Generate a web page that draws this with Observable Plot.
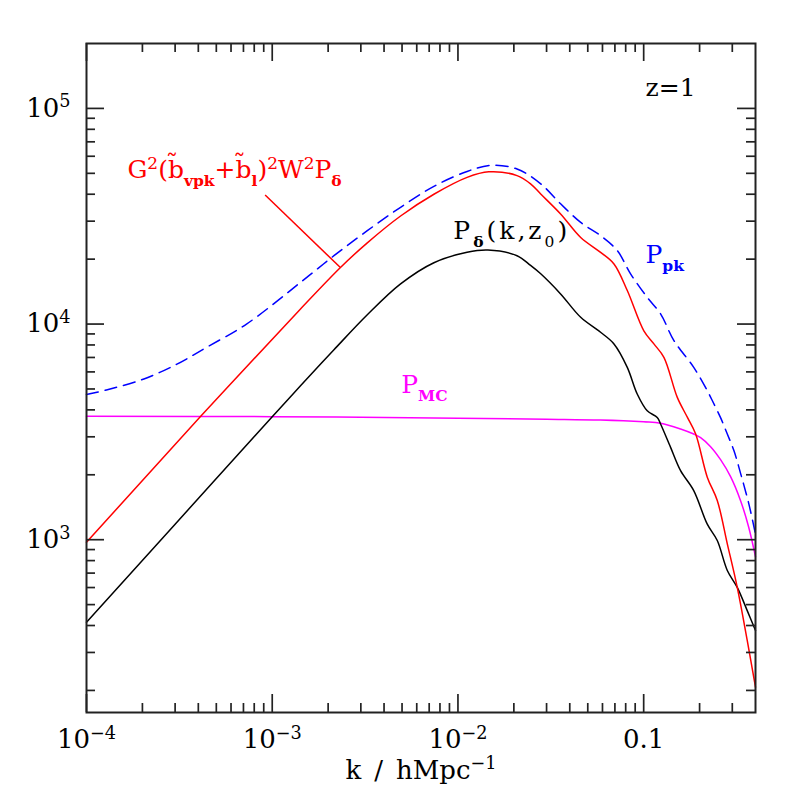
<!DOCTYPE html>
<html><head><meta charset="utf-8">
<script src="https://cdn.jsdelivr.net/npm/d3@7"></script>
<script src="https://cdn.jsdelivr.net/npm/@observablehq/plot@0.6"></script>
<style>body{margin:0;background:#fff;}</style>
</head><body><div id="chart"></div>
<script>
// ---- data ----
const kDelta = [1e-4, 3e-4, 1e-3, 1.42e-3, 2.15e-3, 3.25e-3, 4.91e-3, 7.42e-3, 0.0112, 0.0145, 0.0208, 0.0246, 0.0279, 0.0357, 0.0458, 0.0586, 0.0692, 0.0816, 0.0923, 0.1045, 0.1183, 0.1233, 0.1396, 0.158, 0.186, 0.220, 0.249, 0.282, 0.319, 0.361, 0.4];
const pDelta = [414, 1180, 3720, 5170, 7600, 11040, 15350, 19250, 21530, 22050, 20750, 18700, 17100, 13800, 10750, 9160, 8090, 6300, 4740, 3960, 3690, 3440, 2680, 2090, 1690, 1180, 991, 720, 601, 469, 379];

const kBias = [1e-4, 4.12e-4, 1.42e-3, 2.33e-3, 3.25e-3, 4.91e-3, 7.42e-3, 0.0112, 0.01466, 0.0208, 0.0246, 0.0279, 0.0357, 0.0458, 0.0586, 0.0692, 0.0816, 0.1002, 0.1135, 0.1285, 0.1517, 0.172, 0.1905, 0.220, 0.249, 0.282, 0.319, 0.361, 0.4];
const pBias = [972, 3733, 11750, 18300, 23800, 31700, 40000, 47900, 50800, 48800, 44700, 40100, 32400, 25200, 21500, 19000, 14300, 9300, 8090, 7010, 4570, 3690, 3090, 1950, 1520, 957, 601, 341, 207];

const kPk = [1e-4, 1.28e-4, 2.02e-4, 3.05e-4, 4.43e-4, 7.27e-4, 1.42e-3, 2.15e-3, 3.25e-3, 4.91e-3, 7.42e-3, 0.0112, 0.0150, 0.0208, 0.0279, 0.0357, 0.0458, 0.0586, 0.0721, 0.0850, 0.1045, 0.1233, 0.1455, 0.186, 0.220, 0.234, 0.259, 0.282, 0.306, 0.333, 0.368, 0.4];
const pPk = [4710, 4950, 5550, 6500, 7800, 10000, 15600, 20750, 27100, 34800, 43500, 51000, 54500, 52400, 44700, 36100, 29600, 25700, 21900, 17100, 13300, 11150, 8380, 6300, 4910, 4420, 3690, 3090, 2590, 2020, 1470, 1060];

const kMC = [1e-4, 1e-3, 1e-2, 0.03, 0.0586, 0.1, 0.1233, 0.158, 0.186, 0.2025, 0.2292, 0.2594, 0.2937, 0.3324, 0.3671, 0.4];
const pMC = [3733, 3720, 3660, 3620, 3590, 3520, 3470, 3262, 3090, 2972, 2700, 2350, 1960, 1517, 1149, 834];

const xDomain = [1e-4, 0.4];
const yDomain = [158, 2e5];
const xMajor = [1e-4, 1e-3, 1e-2, 0.1];
const xMajorLabels = ["10^{\u22124}", "10^{\u22123}", "10^{\u22122}", "0.1"];
const xMinor = [2e-4,3e-4,4e-4,5e-4,6e-4,7e-4,8e-4,9e-4, 2e-3,3e-3,4e-3,5e-3,6e-3,7e-3,8e-3,9e-3, 0.02,0.03,0.04,0.05,0.06,0.07,0.08,0.09, 0.2,0.3];
const yMajor = [1e3, 1e4, 1e5];
const yMajorLabels = ["10^{3}", "10^{4}", "10^{5}"];
const yMinor = [200,300,400,500,600,700,800,900, 2000,3000,4000,5000,6000,7000,8000,9000, 2e4,3e4,4e4,5e4,6e4,7e4,8e4,9e4];
const xTitle = "k\u2002/\u2002hMpc^{\u22121}";

const labels = [
  {k: 1.66e-4, p: 52000, text: "G^{2}(b\u0303_{vpk}+b\u0303_{l})^{2}W^{2}P_{\u03b4}", color: "#ff0000", spacing: 0},
  {k: 9.44e-3, p: 27000, text: "P_{\u03b4}(k,z_{0})", color: "#000000", spacing: 3},
  {k: 0.1023, p: 21000, text: "P_{pk}", color: "#0000ff", spacing: 0},
  {k: 4.95e-3, p: 5225, text: "P_{MC}", color: "#ff00ff", spacing: 0},
  {k: 0.1023, p: 1.24e5, text: "z=1", color: "#000000", spacing: 0}
];
const pointer = [{k1: 9.16e-4, p1: 39650, k2: 2.32e-3, p2: 18330}];

const zip = (ks, ps) => ks.map((k, i) => ({k, p: ps[i]}));
const H = 669, TL = 18, TS = 9;
const tickStyle = {stroke: "#222", strokeWidth: 1.7};
const FONT = "'DejaVu Serif', 'Liberation Serif', serif";

const svg = Plot.plot({
  width: 797, height: 797,
  marginLeft: 86, marginRight: 42, marginTop: 43, marginBottom: 85,
  style: {fontFamily: FONT, fontSize: "26px", background: "#fff", color: "#000"},
  x: {type: "log", domain: xDomain},
  y: {type: "log", domain: yDomain},
  marks: [
    Plot.line(zip(kMC, pMC), {x: "k", y: "p", stroke: "#ff00ff", strokeWidth: 1.5, curve: "catmull-rom"}),
    Plot.line(zip(kDelta, pDelta), {x: "k", y: "p", stroke: "#000", strokeWidth: 1.5, curve: "catmull-rom"}),
    Plot.line(zip(kBias, pBias), {x: "k", y: "p", stroke: "#ff0000", strokeWidth: 1.5, curve: "catmull-rom"}),
    Plot.line(zip(kPk, pPk), {x: "k", y: "p", stroke: "#0000ff", strokeWidth: 1.5, strokeDasharray: "12,7", curve: "catmull-rom"}),
    Plot.link(pointer, {x1: "k1", y1: "p1", x2: "k2", y2: "p2", stroke: "#ff0000", strokeWidth: 1.5}),
    Plot.text(labels, {x: "k", y: "p", text: "text", fill: "color", textAnchor: "start", fontSize: 25}),
    // ticks, inward, on all four sides
    Plot.ruleX(xMajor, {insetTop: H - TL, ...tickStyle}),
    Plot.ruleX(xMajor, {insetBottom: H - TL, ...tickStyle}),
    Plot.ruleX(xMinor, {insetTop: H - TS, ...tickStyle}),
    Plot.ruleX(xMinor, {insetBottom: H - TS, ...tickStyle}),
    Plot.ruleY(yMajor, {insetRight: H - TL, ...tickStyle}),
    Plot.ruleY(yMajor, {insetLeft: H - TL, ...tickStyle}),
    Plot.ruleY(yMinor, {insetRight: H - TS, ...tickStyle}),
    Plot.ruleY(yMinor, {insetLeft: H - TS, ...tickStyle}),
    Plot.axisX({ticks: xMajor, tickFormat: d => xMajorLabels[xMajor.indexOf(d)], tickSize: 0, tickPadding: 17, anchor: "bottom", label: null, fontSize: 26}),
    Plot.axisY({ticks: yMajor, tickFormat: d => yMajorLabels[yMajor.indexOf(d)], tickSize: 0, tickPadding: 16, anchor: "left", label: null, fontSize: 26}),
    Plot.text([xTitle], {text: d => d, frameAnchor: "bottom", dy: 66, fontSize: 26}),
    Plot.frame({stroke: "#222", strokeWidth: 2})
  ]
});
document.getElementById("chart").appendChild(svg);

// rich text: ^{..} superscript, _{..} subscript
function richify(root) {
  root.querySelectorAll("text").forEach(el => {
    const s = el.textContent;
    if (!/[\^_]\{/.test(s)) return;
    const lab = labels.find(l => l.text === s);
    if (lab && lab.spacing) el.setAttribute("letter-spacing", lab.spacing);
    const fs = parseFloat(getComputedStyle(el).fontSize);
    el.textContent = "";
    const re = /([\^_])\{([^}]*)\}|([^\^_]+)/g;
    let m, cur = 0;
    while ((m = re.exec(s))) {
      const t = document.createElementNS("http://www.w3.org/2000/svg", "tspan");
      let off, size;
      if (m[3] !== undefined) { off = 0; size = fs; t.textContent = m[3]; }
      else if (m[1] === "^") { off = -0.36 * fs; size = 0.68 * fs; t.textContent = m[2]; }
      else {
        off = 0.32 * fs; size = 0.62 * fs; t.textContent = m[2];
        if (/[^0-9]/.test(m[2])) t.setAttribute("font-weight", "bold");
      }
      t.setAttribute("dy", off - cur); cur = off;
      t.setAttribute("font-size", size);
      el.appendChild(t);
    }
  });
}
richify(svg);
</script>
</body></html>
